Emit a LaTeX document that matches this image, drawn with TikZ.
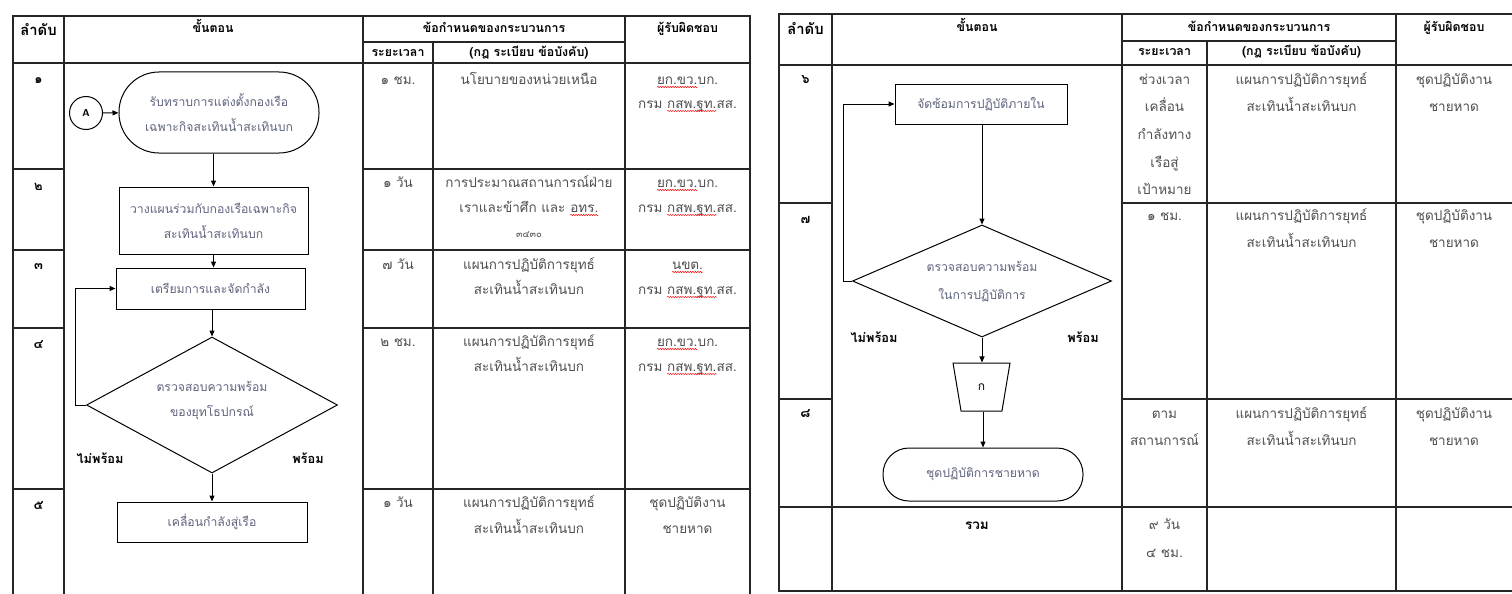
\documentclass[tikz,border=0pt]{standalone}
\usepackage{fontspec}
\newfontfamily\thai[Script=Thai]{Loma}
\usetikzlibrary{arrows.meta,shapes.geometric,decorations.pathmorphing}
\newcommand\spell[1]{\tikz[baseline=(w.base)]{\node[inner sep=0pt,outer sep=0pt,text=tabtext,anchor=base](w){#1};
  \draw[red,line width=0.5pt,decorate,decoration={snake,amplitude=0.6pt,segment length=2.5pt}] ([yshift=-2.5pt]w.base west) -- ([yshift=-2.5pt]w.base east);}}
\newcommand\cs[1]{\begin{tabular}[t]{@{}c@{}}#1\end{tabular}}
\definecolor{tabtext}{RGB}{80,80,80}
\definecolor{flowtext}{RGB}{95,100,125}
\begin{document}
\begin{tikzpicture}[x=1pt,y=-1pt,
  grid/.style={line width=1.4pt,draw=black!85},
  flowline/.style={line width=1pt,draw=black},
  arr/.style={flowline,-{Triangle[length=6pt,width=5pt]}},
  cell/.style={anchor=base,inner sep=0pt,text=tabtext,
    font=\thai\fontsize{13.5}{25}\selectfont},
  rcell/.style={cell,font=\thai\fontsize{13.5}{27}\selectfont},
  hd/.style={anchor=base,inner sep=0pt,align=center,text=black,
    font=\thai\bfseries\fontsize{12.4}{14}\selectfont},
  num/.style={anchor=base,inner sep=0pt,text=black,font=\thai\bfseries\fontsize{13}{14}\selectfont},
  flowtxt/.style={align=center,text=flowtext,font=\thai\fontsize{12.2}{25}\selectfont,inner sep=0pt},
  proc/.style={flowtxt,draw,line width=1pt},
  term/.style={flowtxt,draw,line width=1pt,rounded corners=26pt},
  dec/.style={draw,line width=1pt,diamond,inner sep=0pt},
  lbl/.style={anchor=base,inner sep=0pt,text=black,font=\thai\bfseries\fontsize{12.8}{14}\selectfont},
]
\useasboundingbox (0,0) rectangle (1512,594);
\fill[white] (0,0) rectangle (1512,594);
% ---------------- left table ----------------
\draw[grid] (13,594) -- (13,16) -- (750,16) -- (750,594);
\draw[grid] (64,16) -- (64,594);
\draw[grid] (363,16) -- (363,594);
\draw[grid] (625,16) -- (625,594);
\draw[grid] (433,42) -- (433,594);
\draw[grid] (363,42) -- (625,42);
\draw[grid] (13,63) -- (750,63);
\foreach \yy in {169,250,328,489}{
  \draw[grid] (13,\yy) -- (64,\yy);
  \draw[grid] (363,\yy) -- (750,\yy);
}
% headers
\node[hd,font=\thai\bfseries\fontsize{14.8}{16}\selectfont] (lh0) at (38.5,36) {ลำดับ};
\node[hd] (lh1) at (213,33) {ขั้นตอน};
\node[hd] (lh2) at (494,33) {ข้อกำหนดของกระบวนการ};
\node[hd] (lh3) at (398,57) {ระยะเวลา};
\node[hd] (lh4) at (529,57) {(กฎ ระเบียบ ข้อบังคับ)};
\node[hd] (lh5) at (687.5,33) {ผู้รับผิดชอบ};
% row numbers
\node[num] (n1) at (38.5,83) {๑};
\node[num] (n2) at (38.5,190) {๒};
\node[num] (n3) at (38.5,269) {๓};
\node[num] (n4) at (38.5,348) {๔};
\node[num] (n5) at (38.5,509) {๕};
% row 1
\node[cell] (t1) at (398,84.5) {๑ ชม.};
\node[cell] (r1) at (529,84.5) {นโยบายของหน่วยเหนือ};
\node[cell,font=\thai\fontsize{13.5}{24}\selectfont] (p1) at (687.5,84.5) {\cs{\spell{ยก.ขว.}บก.\\กรม \spell{กสพ.ฐท.}สส.}};
% row 2
\node[cell] (t2) at (398,187.5) {๑ วัน};
\node[cell] (r2) at (529,187.5) {\cs{การประมาณสถานการณ์ฝ่าย\\เราและข้าศึก และ \spell{อทร.}\\{\fontsize{9.5}{10}\selectfont ๓๔๓๐}}};
\node[cell] (p2) at (687.5,187.5) {\cs{\spell{ยก.ขว.}บก.\\กรม \spell{กสพ.ฐท.}สส.}};
% row 3
\node[cell] (t3) at (398,269.5) {๗ วัน};
\node[cell] (r3) at (529,269.5) {\cs{แผนการปฏิบัติการยุทธ์\\สะเทินน้ำสะเทินบก}};
\node[cell] (p3) at (687.5,269.5) {\cs{\spell{นขต.}\\กรม \spell{กสพ.ฐท.}สส.}};
% row 4
\node[cell] (t4) at (398,346.5) {๒ ชม.};
\node[cell] (r4) at (529,346.5) {\cs{แผนการปฏิบัติการยุทธ์\\สะเทินน้ำสะเทินบก}};
\node[cell] (p4) at (687.5,346.5) {\cs{\spell{ยก.ขว.}บก.\\กรม \spell{กสพ.ฐท.}สส.}};
% row 5
\node[cell] (t5) at (398,507.5) {๑ วัน};
\node[cell,font=\thai\fontsize{13.5}{26}\selectfont] (r5) at (529,507.5) {\cs{แผนการปฏิบัติการยุทธ์\\สะเทินน้ำสะเทินบก}};
\node[cell,font=\thai\fontsize{13.5}{26}\selectfont] (p5) at (687.5,507.5) {\cs{ชุดปฏิบัติงาน\\ชายหาด}};
% left flowchart
\node[draw,circle,line width=1pt,minimum size=33pt,inner sep=0pt,
  font=\sffamily\bfseries\fontsize{10}{12}\selectfont] (A) at (86,113) {A};
\node[term,minimum width=200pt,minimum height=81pt,rounded corners=40pt] (s1) at (219,112.5) {รับทราบการแต่งตั้งกองเรือ\\เฉพาะกิจสะเทินน้ำสะเทินบก};
\node[proc,minimum width=189pt,minimum height=67pt] (s2) at (213.5,220.5) {วางแผนร่วมกับกองเรือเฉพาะกิจ\\สะเทินน้ำสะเทินบก};
\node[proc,minimum width=189pt,minimum height=41pt] (s3) at (210.5,288.5) {เตรียมการและจัดกำลัง};
\node[dec,minimum width=251pt,minimum height=136pt] (d1) at (212,405) {};
\node[flowtxt] (d1t) at (212,400) {ตรวจสอบความพร้อม\\ของยุทโธปกรณ์};
\node[proc,minimum width=190pt,minimum height=40pt] (s5) at (212,522) {เคลื่อนกำลังสู่เรือ};
\node[lbl] (no1) at (100,463) {ไม่พร้อม};
\node[lbl] (yes1) at (308,463) {พร้อม};
\draw[arr] (A) -- (s1);
\draw[arr] (s1.south -| s2.north) -- (s2.north);
\draw[arr] (s2) -- (s2.south |- s3.north);
\draw[arr] (s3.south -| d1.north) -- (d1.north);
\draw[arr] (d1.south) -- (d1.south |- s5.north);
\coordinate (c1) at (75,405);
\draw[arr] (d1.west) -- (c1) |- (s3.west);
% ---------------- right table ----------------
\draw[grid] (1512,14) -- (779,14) -- (779,591) -- (1512,591);
\draw[grid] (832,14) -- (832,591);
\draw[grid] (1122,14) -- (1122,591);
\draw[grid] (1396,14) -- (1396,591);
\draw[grid] (1207,41) -- (1207,591);
\draw[grid] (1122,41) -- (1396,41);
\draw[grid] (779,65) -- (1512,65);
\foreach \yy in {203,399}{
  \draw[grid] (779,\yy) -- (832,\yy);
  \draw[grid] (1122,\yy) -- (1512,\yy);
}
\draw[grid] (779,507) -- (1512,507);
% headers
\node[hd,font=\thai\bfseries\fontsize{14.8}{16}\selectfont] (rh0) at (805.5,35) {ลำดับ};
\node[hd] (rh1) at (977,32) {ขั้นตอน};
\node[hd] (rh2) at (1259,32) {ข้อกำหนดของกระบวนการ};
\node[hd] (rh3) at (1164.5,56) {ระยะเวลา};
\node[hd] (rh4) at (1301.5,56) {(กฎ ระเบียบ ข้อบังคับ)};
\node[hd] (rh5) at (1454,32) {ผู้รับผิดชอบ};
\node[num] (n6) at (805.5,83) {๖};
\node[num] (n7) at (805.5,223) {๗};
\node[num] (n8) at (805.5,417) {๘};
\node[hd,font=\thai\bfseries\fontsize{13.5}{14}\selectfont] (tot) at (977,529) {รวม};
% row 6
\node[rcell,font=\thai\fontsize{13.5}{27.5}\selectfont] (t6) at (1164.5,84.5) {\cs{ช่วงเวลา\\เคลื่อน\\กำลังทาง\\เรือสู่\\เป้าหมาย}};
\node[rcell] (r6) at (1301.5,84.5) {\cs{แผนการปฏิบัติการยุทธ์\\สะเทินน้ำสะเทินบก}};
\node[rcell] (p6) at (1454,84.5) {\cs{ชุดปฏิบัติงาน\\ชายหาด}};
% row 7
\node[rcell] (t7) at (1164.5,220) {๑ ชม.};
\node[rcell] (r7) at (1301.5,220) {\cs{แผนการปฏิบัติการยุทธ์\\สะเทินน้ำสะเทินบก}};
\node[rcell] (p7) at (1454,220) {\cs{ชุดปฏิบัติงาน\\ชายหาด}};
% row 8
\node[rcell] (t8) at (1164.5,418) {\cs{ตาม\\สถานการณ์}};
\node[rcell] (r8) at (1301.5,418) {\cs{แผนการปฏิบัติการยุทธ์\\สะเทินน้ำสะเทินบก}};
\node[rcell] (p8) at (1454,418) {\cs{ชุดปฏิบัติงาน\\ชายหาด}};
% total
\node[rcell,font=\thai\fontsize{13.5}{28}\selectfont] (t9) at (1164.5,529) {\cs{๙ วัน\\๔ ชม.}};
% right flowchart
\node[proc,minimum width=172pt,minimum height=40pt] (s6) at (981,104) {จัดซ้อมการปฏิบัติภายใน};
\node[dec,minimum width=259pt,minimum height=112pt] (d2) at (982,281) {};
\node[flowtxt,font=\thai\fontsize{12.2}{28}\selectfont] (d2t) at (982,282) {ตรวจสอบความพร้อม\\ในการปฏิบัติการ};
\node[flowtxt,draw,line width=1pt,trapezium,shape border rotate=180,
  trapezium stretches=true,trapezium left angle=78,trapezium right angle=78,
  minimum width=57pt,minimum height=48pt,text=black,font=\thai\fontsize{12}{12}\selectfont] (k) at (981.5,387) {ก};
\node[term,minimum width=200pt,minimum height=53pt] (s8) at (983,474.5) {ชุดปฏิบัติการชายหาด};
\node[lbl] (no2) at (874,342) {ไม่พร้อม};
\node[lbl] (yes2) at (1083,342) {พร้อม};
\draw[arr] (s6.south -| d2.north) -- (d2.north);
\draw[arr] (d2.south) -- (d2.south |- k.north);
\draw[arr] (k.south -| s8.north) -- (s8.north);
\coordinate (c2) at (843,281);
\draw[arr] (d2.west) -- (c2) |- (s6.west);
\end{tikzpicture}
\end{document}
